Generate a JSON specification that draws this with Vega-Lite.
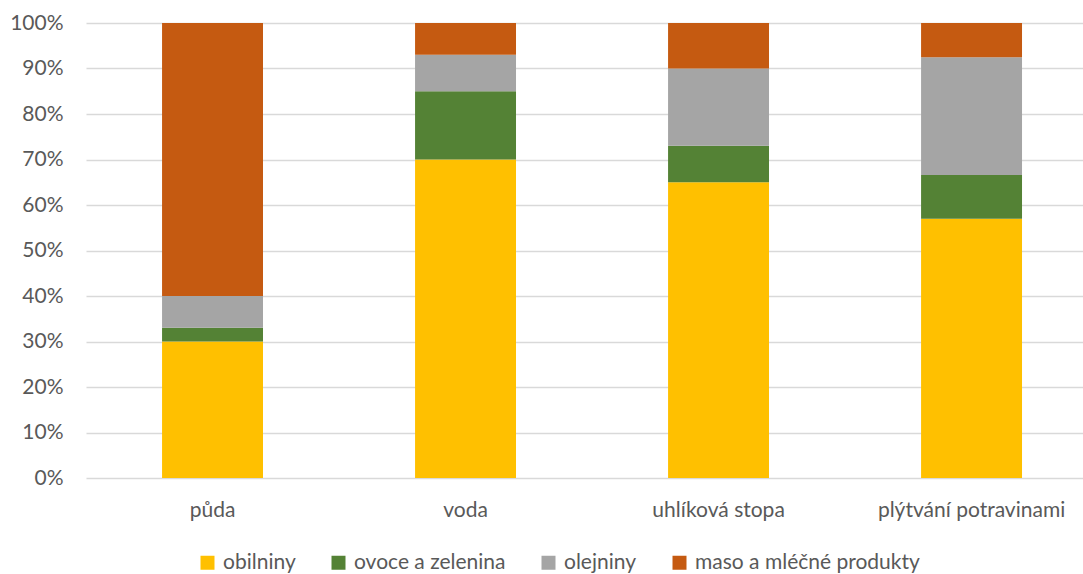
{
  "$schema": "https://vega.github.io/schema/vega-lite/v6.json",
  "width": 997,
  "height": 455,
  "autosize": {"type": "none"},
  "padding": {"left": 86, "top": 23, "right": 0, "bottom": 96},
  "background": "white",
  "config": {
    "view": {"stroke": null},
    "font": "Lato"
  },
  "data": {
    "values": [
      {"kategorie": "půda", "skupina": "obilniny", "poradi": 1, "podil": 30},
      {"kategorie": "půda", "skupina": "ovoce a zelenina", "poradi": 2, "podil": 3},
      {"kategorie": "půda", "skupina": "olejniny", "poradi": 3, "podil": 7},
      {"kategorie": "půda", "skupina": "maso a mléčné produkty", "poradi": 4, "podil": 60},
      {"kategorie": "voda", "skupina": "obilniny", "poradi": 1, "podil": 70},
      {"kategorie": "voda", "skupina": "ovoce a zelenina", "poradi": 2, "podil": 15},
      {"kategorie": "voda", "skupina": "olejniny", "poradi": 3, "podil": 8},
      {"kategorie": "voda", "skupina": "maso a mléčné produkty", "poradi": 4, "podil": 7},
      {"kategorie": "uhlíková stopa", "skupina": "obilniny", "poradi": 1, "podil": 65},
      {"kategorie": "uhlíková stopa", "skupina": "ovoce a zelenina", "poradi": 2, "podil": 8},
      {"kategorie": "uhlíková stopa", "skupina": "olejniny", "poradi": 3, "podil": 17},
      {"kategorie": "uhlíková stopa", "skupina": "maso a mléčné produkty", "poradi": 4, "podil": 10},
      {"kategorie": "plýtvání potravinami", "skupina": "obilniny", "poradi": 1, "podil": 57},
      {"kategorie": "plýtvání potravinami", "skupina": "ovoce a zelenina", "poradi": 2, "podil": 9.6},
      {"kategorie": "plýtvání potravinami", "skupina": "olejniny", "poradi": 3, "podil": 25.9},
      {"kategorie": "plýtvání potravinami", "skupina": "maso a mléčné produkty", "poradi": 4, "podil": 7.5}
    ]
  },
  "mark": {"type": "bar"},
  "encoding": {
    "x": {
      "field": "kategorie",
      "type": "nominal",
      "sort": ["půda", "voda", "uhlíková stopa", "plýtvání potravinami"],
      "scale": {"paddingInner": 0.601, "paddingOuter": 0.2708, "align": 0.555},
      "axis": {
        "title": null,
        "labelAngle": 0,
        "domain": false,
        "ticks": false,
        "labelPadding": 21,
        "labelFontSize": 21,
        "labelColor": "#595959",
        "labelFont": "Lato",
        "labelLimit": 0
      }
    },
    "y": {
      "field": "podil",
      "type": "quantitative",
      "stack": "normalize",
      "scale": {"domain": [0, 1]},
      "axis": {
        "title": null,
        "format": "%",
        "values": [0, 0.1, 0.2, 0.3, 0.4, 0.5, 0.6, 0.7, 0.8, 0.9, 1],
        "domain": false,
        "ticks": false,
        "labelPadding": 23,
        "labelFontSize": 21,
        "labelColor": "#595959",
        "labelFont": "Lato",
        "gridColor": "#D9D9D9",
        "gridWidth": 1.5
      }
    },
    "color": {
      "field": "skupina",
      "type": "nominal",
      "scale": {
        "domain": ["obilniny", "ovoce a zelenina", "olejniny", "maso a mléčné produkty"],
        "range": ["#FFC000", "#548235", "#A5A5A5", "#C55A11"]
      },
      "legend": {
        "title": null,
        "orient": "none",
        "direction": "horizontal",
        "legendX": 111,
        "legendY": 529,
        "symbolType": "square",
        "symbolSize": 196,
        "symbolStrokeWidth": 0,
        "symbolOpacity": 1,
        "labelFontSize": 21,
        "labelColor": "#595959",
        "labelFont": "Lato",
        "labelOffset": 5,
        "labelLimit": 0,
        "columnPadding": 32
      }
    },
    "order": {"field": "poradi", "type": "quantitative"}
  }
}
